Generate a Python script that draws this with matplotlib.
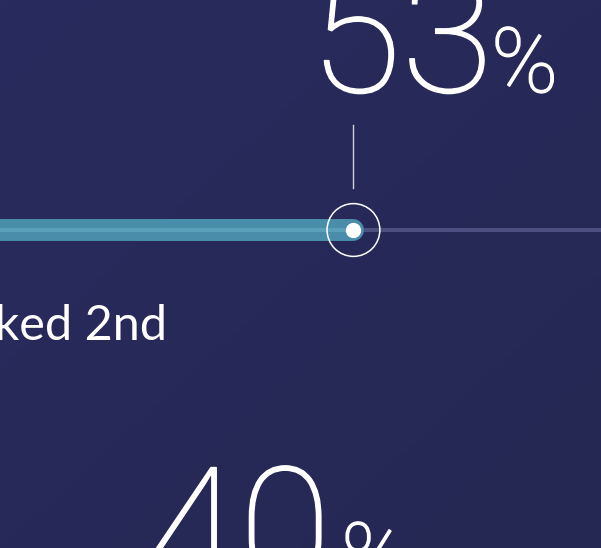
import numpy as np
import matplotlib.pyplot as plt
import matplotlib.patheffects as pe
from matplotlib.colors import LinearSegmentedColormap

# values shown on the (cropped) infographic
values = [53, 40]
labels = ["Ranked 2nd", ""]
track_max = 100

bg_cmap = LinearSegmentedColormap.from_list("bg", ["#292b5e", "#252852"])

fig = plt.figure(figsize=(6.01, 5.48), dpi=100)
ax = fig.add_axes([0, 0, 1, 1])
ax.set_xlim(27.3, 71.0)
ax.set_ylim(548, 0)
ax.axis("off")

# background gradient
gx, gy = np.meshgrid(np.linspace(0, 1, 200), np.linspace(0, 1, 200))
ax.imshow((gx + gy) / 2, cmap=bg_cmap, extent=[27.3, 71.0, 548, 0],
          aspect="auto", zorder=0)

thick = [pe.withStroke(linewidth=1.0, foreground="white")]
num_font = dict(family=["Roboto", "DejaVu Sans"], weight=100, color="white",
                path_effects=thick)

# first row: bar with marker
v = values[0]
y = 230
ax.plot([v, track_max], [y, y], color="#4b4f7f", lw=2.9, solid_capstyle="butt", zorder=1)
ax.plot([0, v], [y, y], color="#4a8dab", lw=15.8, solid_capstyle="round", zorder=2)
ax.plot([0, v], [y, y], color="#5aa0bb", lw=2.9, solid_capstyle="butt", zorder=3)
ax.scatter([v], [y], s=100, color="white", zorder=4)
ax.scatter([v], [y], s=1444, facecolor="none", edgecolor="white", lw=1.1, zorder=4)
ax.plot([v, v], [125, 188], color="#d0d0dc", lw=1.0, zorder=3)

ax.text(v - 3.2, 92, str(v), fontsize=121, ha="left", va="baseline", **num_font)
ax.text(v + 10.0, 92, "%", fontsize=65, ha="left", va="baseline", **num_font)
ax.text(v - 13.56, 340, labels[0], fontsize=35, ha="right", va="baseline",
        color="white", family=["Lato", "DejaVu Sans"])

# second row (cut off at the bottom)
v2 = values[1]
ax.text(v2 - 2.0, 587, str(v2), fontsize=121, ha="left", va="baseline", **num_font)
ax.text(v2 + 12.1, 587, "%", fontsize=65, ha="left", va="baseline", **num_font)

fig.savefig("out.png", dpi=100)
